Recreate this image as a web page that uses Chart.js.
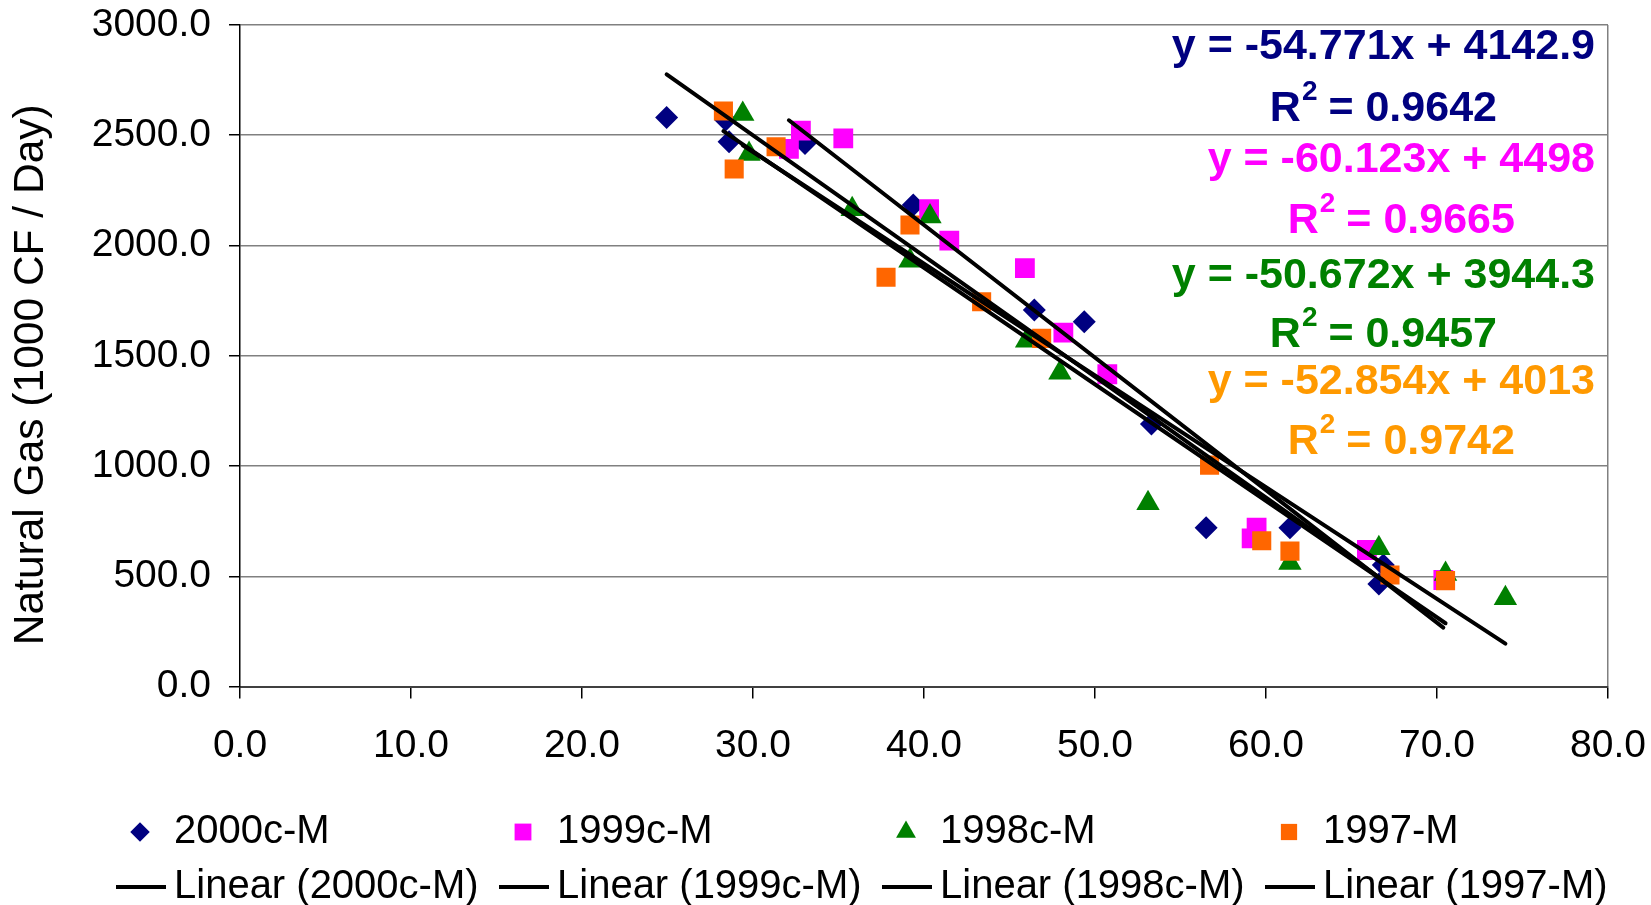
<!DOCTYPE html>
<html>
<head>
<meta charset="utf-8">
<title>Natural Gas vs Temperature</title>
<script src="https://cdn.jsdelivr.net/npm/chart.js@4.4.0/dist/chart.umd.min.js"></script>
<style>
  html, body { margin: 0; padding: 0; background: #fff; }
  #chart { display: block; }
</style>
</head>
<body>
<canvas id="chart" width="1651" height="905"></canvas>
<script>
const seriesNames = ['2000c-M', '1999c-M', '1998c-M', '1997-M'];
const yTitle = 'Natural Gas (1000 CF / Day)';

// monthly readings per year (x = temperature, y = gas use)
const x2000 = [24.95, 28.4, 28.6, 33.04, 39.37, 46.45, 49.37, 53.3, 56.5, 61.4, 66.86, 66.6];
const y2000 = [2580, 2569, 2471, 2463, 2184, 1707, 1654, 1190, 720, 720, 551, 465];
const x1999 = [32.1, 32.8, 35.28, 40.3, 41.48, 45.9, 48.15, 50.72, 59.45, 59.16, 65.9, 70.37];
const y1999 = [2438, 2521, 2486, 2165, 2022, 1897, 1605, 1416, 720, 672, 619, 483];
const x1998 = [29.4, 29.77, 35.8, 40.35, 39.18, 46.0, 47.95, 53.1, 61.4, 66.6, 70.5, 74.0];
const y1998 = [2596, 2415, 2164, 2131, 1931, 1568, 1423, 831, 560, 627, 510, 400];
const x1997 = [28.27, 28.9, 31.35, 39.18, 37.78, 43.37, 46.88, 56.7, 59.75, 61.4, 67.25, 70.5];
const y1997 = [2610, 2347, 2448, 2093, 1856, 1745, 1579, 1004, 661, 614, 506, 480];

// fitted trend lines
const slopes = [-54.771, -60.123, -50.672, -52.854];
const intercepts = [4142.9, 4498, 3944.3, 4013];
const rSquared = [0.9642, 0.9665, 0.9457, 0.9742];

const xValues = [x2000, x1999, x1998, x1997];
const yValues = [y2000, y1999, y1998, y1997];

const markerColors = ['#000080', '#FF00FF', '#008000', '#FF6600'];
const labelColors = ['#000080', '#FF00FF', '#008000', '#FF9900'];
const markerShapes = ['rectRot', 'rect', 'triangle', 'rect'];
const markerSizes = [11.5, 14, 13.5, 13.5];
const FONT = '"Liberation Sans", Arial, sans-serif';

const datasets = [];
seriesNames.forEach((name, i) => {
  datasets.push({
    label: name,
    data: xValues[i].map((x, j) => ({ x: x, y: yValues[i][j] })),
    pointStyle: markerShapes[i],
    pointRadius: markerSizes[i],
    pointBackgroundColor: markerColors[i],
    pointBorderWidth: 0,
    backgroundColor: markerColors[i],
    order: 4 - i
  });
});
seriesNames.forEach((name, i) => {
  const lo = Math.min(...xValues[i]);
  const hi = Math.max(...xValues[i]);
  datasets.push({
    type: 'line',
    label: 'Linear (' + name + ')',
    data: [lo, hi].map(x => ({ x: x, y: slopes[i] * x + intercepts[i] })),
    borderColor: '#000',
    borderWidth: 4,
    borderCapStyle: 'round',
    pointRadius: 0,
    fill: false,
    order: 0
  });
});

// legend in a 4 x 2 grid under the axis
const gridLegend = {
  id: 'gridLegend',
  afterDraw(chart) {
    const ctx = chart.ctx;
    ctx.save();
    ctx.font = '40px ' + FONT;
    ctx.textBaseline = 'middle';
    ctx.textAlign = 'left';
    chart.data.datasets.forEach((ds, k) => {
      const col = k % 4;
      const row = Math.floor(k / 4);
      const x0 = 140 + col * 383;
      const y0 = row === 0 ? 832 : 887;
      if (row === 0) {
        ctx.fillStyle = ds.pointBackgroundColor;
        Chart.helpers.drawPoint(ctx, {
          pointStyle: ds.pointStyle, radius: ds.pointRadius * 0.85, rotation: 0, borderWidth: 0
        }, x0, y0);
      } else {
        ctx.fillStyle = '#000';
        ctx.fillRect(x0 - 24, y0 - 2, 50, 4);
      }
      ctx.fillStyle = '#000';
      ctx.fillText(ds.label, x0 + 34, y0);
    });
    ctx.restore();
  }
};

// rotated y axis title, sitting a little below the axis middle
const axisTitle = {
  id: 'axisTitle',
  afterDraw(chart) {
    const ctx = chart.ctx;
    const area = chart.chartArea;
    ctx.save();
    ctx.translate(31, (area.top + area.bottom) / 2 + 19);
    ctx.rotate(-Math.PI / 2);
    ctx.font = '42.5px ' + FONT;
    ctx.fillStyle = '#000';
    ctx.textAlign = 'center';
    ctx.textBaseline = 'middle';
    ctx.fillText(yTitle, 0, 0);
    ctx.restore();
  }
};

// equation + R² labels at top right of the plot
const labelRows = [[47, 109], [160, 221], [276, 335], [382, 442]];
const fitLabels = {
  id: 'fitLabels',
  afterDatasetsDraw(chart) {
    const ctx = chart.ctx;
    const right = chart.chartArea.right - 13;
    ctx.save();
    ctx.textBaseline = 'middle';
    ctx.textAlign = 'left';
    seriesNames.forEach((name, i) => {
      const eq = 'y = ' + slopes[i] + 'x + ' + intercepts[i];
      ctx.font = 'bold 43px ' + FONT;
      const w1 = ctx.measureText(eq).width;
      const cx = right - w1 / 2;
      ctx.fillStyle = labelColors[i];
      ctx.fillText(eq, cx - w1 / 2, labelRows[i][0]);

      const rest = ' = ' + rSquared[i];
      const wR = ctx.measureText('R').width;
      const wRest = ctx.measureText(rest).width;
      ctx.font = 'bold 28px ' + FONT;
      const w2 = ctx.measureText('2').width;
      const start = cx - (wR + w2 + wRest) / 2;
      const yy = labelRows[i][1];
      ctx.fillText('2', start + wR + 1, yy - 17);
      ctx.font = 'bold 43px ' + FONT;
      ctx.fillText('R', start, yy);
      ctx.fillText(rest, start + wR + w2, yy);
    });
    ctx.restore();
  }
};

new Chart(document.getElementById('chart'), {
  type: 'scatter',
  data: { datasets: datasets },
  plugins: [fitLabels, gridLegend, axisTitle],
  options: {
    responsive: false,
    animation: false,
    layout: { padding: { left: 0, right: 43, top: 25, bottom: 0 } },
    plugins: { legend: { display: false }, tooltip: { enabled: false } },
    scales: {
      x: {
        type: 'linear',
        min: 0,
        max: 80,
        ticks: {
          stepSize: 10,
          callback: v => v.toFixed(1),
          font: { family: FONT, size: 39 },
          color: '#000',
          padding: 24,
          maxRotation: 0
        },
        grid: {
          color: c => (c.tick && c.tick.value === 80 ? '#808080' : 'rgba(0,0,0,0)'),
          tickColor: '#000',
          tickLength: 12,
          lineWidth: 1.5
        },
        border: { color: '#404040', width: 2 },
        afterFit: s => {
          s.height = 218.5;
          s.paddingLeft = 0;
          s.paddingRight = 0;
        }
      },
      y: {
        min: 0,
        max: 3000,
        ticks: {
          stepSize: 500,
          callback: v => v.toFixed(1),
          font: { family: FONT, size: 39 },
          color: '#000',
          padding: 18
        },
        grid: { color: '#808080', tickColor: '#000', tickLength: 11, lineWidth: 1.5 },
        border: { color: '#000', width: 1.5 },
        afterFit: s => {
          s.width = 240;
          s.paddingTop = 0;
          s.paddingBottom = 0;
        }
      }
    }
  }
});
</script>
</body>
</html>
